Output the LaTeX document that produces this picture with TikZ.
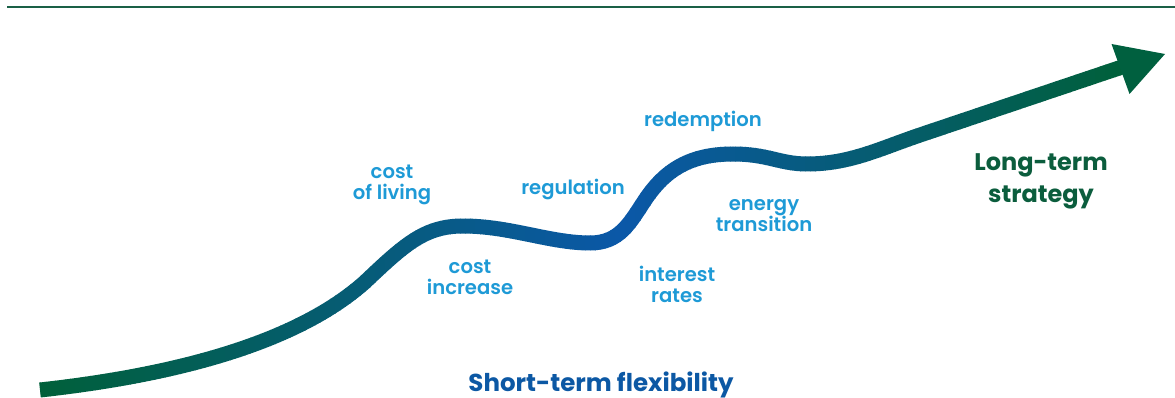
\documentclass[tikz,border=0pt]{standalone}
\usepackage{fontspec}
\setmainfont{Poppins}[UprightFont=* SemiBold, BoldFont=* Bold]
\definecolor{cgreen}{HTML}{00603A}
\definecolor{cblue}{HTML}{0B58A8}
\definecolor{lblblue}{HTML}{1E9AD6}
\definecolor{dgreen}{HTML}{0B5D3D}
\definecolor{sblue}{HTML}{0C58A4}
\definecolor{toplinec}{HTML}{1A6046}
\definecolor{arrowgreen}{HTML}{00603F}
\begin{document}
\begin{tikzpicture}[x=1pt,y=-1pt,
  lbl/.style={text=lblblue, font=\fontsize{19.6}{21}\selectfont, align=center, inner sep=0pt},
  head/.style={font=\bfseries\fontsize{24}{32}\selectfont, align=center, inner sep=0pt},
  band/.style={line width=15pt, line cap=butt, line join=round}]
\useasboundingbox (0,0) rectangle (1175,398);
% top rule
\coordinate (tl) at (7,7);
\coordinate (tr) at (1175,7);
\draw[toplinec, line width=2.6pt] (tl) -- (tr);
% curve points
\coordinate (p0) at (40,390);
\coordinate (c1) at (185,374);
\coordinate (c2) at (300,340);
\coordinate (p1) at (365,282);
\coordinate (c3) at (405,244);
\coordinate (c4) at (425,226);
\coordinate (p2) at (463,226);
\coordinate (c5) at (510,226);
\coordinate (c6) at (550,243);
\coordinate (p3) at (590,243);
\coordinate (c7) at (620,243);
\coordinate (c8) at (630,222.5);
\coordinate (p4) at (645,200);
\coordinate (c9) at (665,170);
\coordinate (c10) at (690,154);
\coordinate (p5) at (733,154);
\coordinate (c11) at (768,154);
\coordinate (c12) at (780,164);
\coordinate (p6) at (807,164);
\coordinate (c13) at (850,164);
\coordinate (c14) at (880,148.5);
\coordinate (p7) at (920,135);
\coordinate (p8) at (1122,67);
\def\curvepath{(p0) .. controls (c1) and (c2) .. (p1)
  .. controls (c3) and (c4) .. (p2)
  .. controls (c5) and (c6) .. (p3)
  .. controls (c7) and (c8) .. (p4)
  .. controls (c9) and (c10) .. (p5)
  .. controls (c11) and (c12) .. (p6)
  .. controls (c13) and (c14) .. (p7) -- (p8)}
\foreach \x in {25,30,...,1125}{
  \pgfmathsetmacro\p{max(0,min(100,(\x<620) ? 100*(1-(620-\x)/580) : 100*(1-(\x-620)/500)))}
  \colorlet{stripc}{cblue!\p!cgreen}
  \begin{scope}
    \clip (\x,0) rectangle ++(5.7,398);
    \draw[band, stripc] \curvepath;
  \end{scope}
}
% arrow head
\coordinate (tip) at (1165,54);
\coordinate (ba) at (1111.5,44);
\coordinate (bb) at (1129.5,94);
\fill[arrowgreen] (tip) -- (ba) -- (bb) -- cycle;
% labels
\node[lbl] (col) at (392,185) {cost\\of living};
\node[lbl] (reg) at (573,189) {regulation};
\node[lbl] (red) at (703,121) {redemption};
\node[lbl] (ci) at (470,277.5) {cost\\increase};
\node[lbl] (et) at (764,216) {energy\\transition};
\node[lbl] (ir) at (677,284) {interest\\rates};
\node[head, text=dgreen] (lts) at (1041,181) {Long-term\\strategy};
\node[head, text=sblue, font=\bfseries\fontsize{24.5}{26}\selectfont] (stf) at (601,385) {Short-term flexibility};
\end{tikzpicture}
\end{document}
